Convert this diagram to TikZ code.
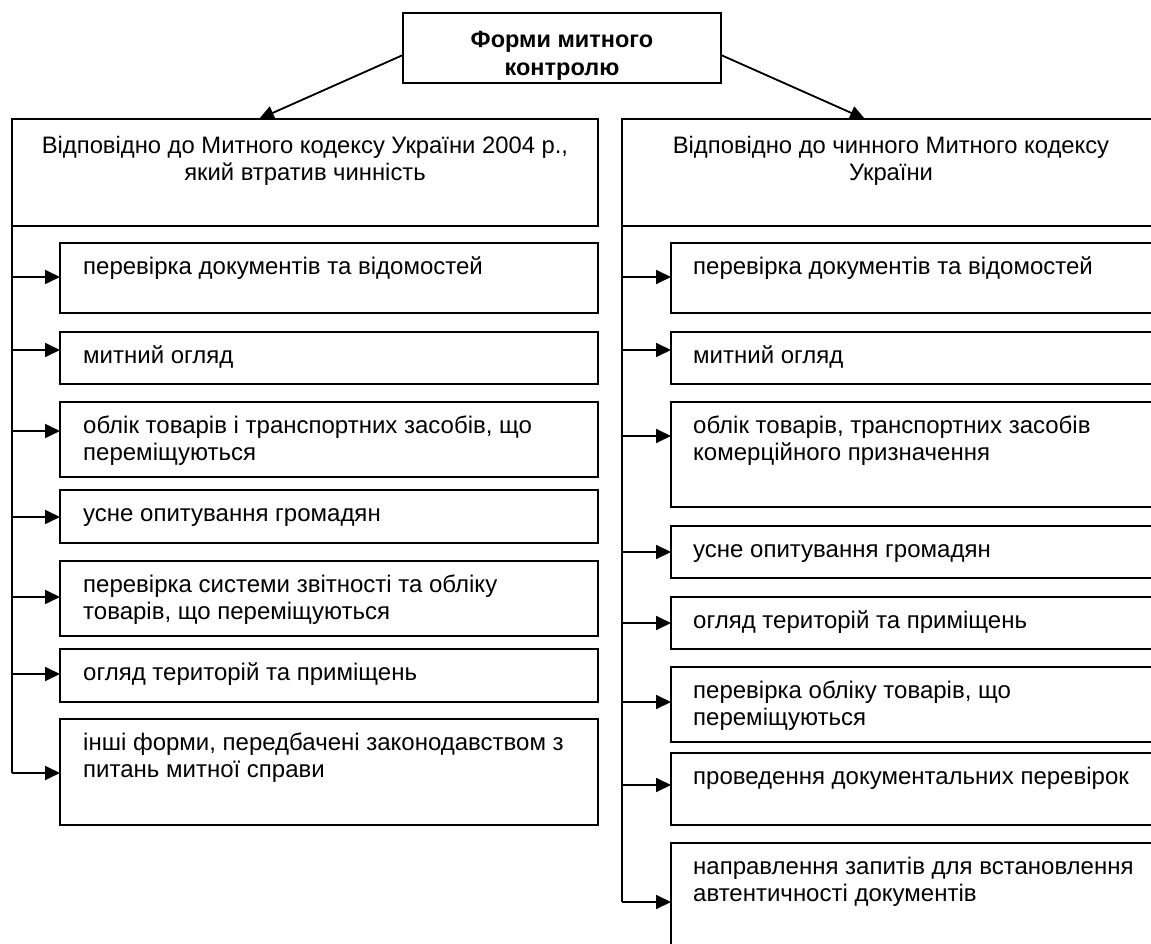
\documentclass[tikz,border=0pt]{standalone}
\usepackage{fontspec}
\setmainfont{Liberation Sans}
\usetikzlibrary{arrows.meta,calc}
\newcommand{\fl}{\rule{0pt}{19pt}}
\begin{document}
\begin{tikzpicture}[x=1pt,y=-1pt,
  box/.style={draw, line width=1.8pt, inner sep=0pt, outer sep=0pt, anchor=north west, fill=white},
  txt/.style={anchor=north west, inner sep=0pt, align=left, font=\fontsize{24}{27}\selectfont},
  htxt/.style={anchor=north, inner sep=0pt, align=center, font=\fontsize{23.8}{27}\selectfont},
  ttxt/.style={anchor=north, inner sep=0pt, align=center, font=\fontsize{23.5}{28}\selectfont\bfseries},
  ln/.style={line width=1.8pt},
  arr/.style={line width=1.8pt, -{Triangle[length=15pt,width=14pt]}},
]
\useasboundingbox (0,0) rectangle (1151,944);
\clip (0,0) rectangle (1151,944);

% title
\node[box, minimum width=318pt, minimum height=70pt] (top) at (403,13) {};
\node[ttxt] (toptxt) at ($(top.north)+(0,14)$) {\rule{0pt}{20pt}Форми митного\\контролю};

% headers
\node[box, minimum width=586pt, minimum height=107pt] (lh) at (12,119) {};
\node[box, minimum width=538pt, minimum height=107pt] (rh) at (622,119) {};
\node[htxt] (lht) at ($(lh.north)+(0,15)$) {\fl Відповідно до Митного кодексу України 2004 р.,\\який втратив чинність};
\node[htxt] (rht) at ($(rh.north)+(0,15)$) {\fl Відповідно до чинного Митного кодексу\\України};

\draw[arr] ($(top.north west)+(0,42)$) -- (259,0 |- lh.north);
\draw[arr] ($(top.north east)+(0,42)$) -- (865,0 |- rh.north);

% left column
\node[box, minimum width=538pt, minimum height=70pt] (l1) at (60,243) {};
\node[box, minimum width=538pt, minimum height=52pt] (l2) at (60,332) {};
\node[box, minimum width=538pt, minimum height=75pt] (l3) at (60,402) {};
\node[box, minimum width=538pt, minimum height=53pt] (l4) at (60,490) {};
\node[box, minimum width=538pt, minimum height=75pt] (l5) at (60,561) {};
\node[box, minimum width=538pt, minimum height=53pt] (l6) at (60,649) {};
\node[box, minimum width=538pt, minimum height=106pt] (l7) at (60,719) {};

\node[txt] (l1t) at ($(l1.north west)+(23,12)$) {\fl перевірка документів та відомостей};
\node[txt] (l2t) at ($(l2.north west)+(23,12)$) {\fl митний огляд};
\node[txt] (l3t) at ($(l3.north west)+(23,12)$) {\fl облік товарів і транспортних засобів, що\\переміщуються};
\node[txt] (l4t) at ($(l4.north west)+(23,12)$) {\fl усне опитування громадян};
\node[txt] (l5t) at ($(l5.north west)+(23,12)$) {\fl перевірка системи звітності та обліку\\товарів, що переміщуються};
\node[txt] (l6t) at ($(l6.north west)+(23,12)$) {\fl огляд територій та приміщень};
\node[txt] (l7t) at ($(l7.north west)+(23,12)$) {\fl інші форми, передбачені законодавством з\\питань митної справи};

\draw[ln] (lh.south west) -- (lh.west |- 0,773);
\draw[arr] (lh.west |- 0,277) -- (l1.west |- 0,277);
\draw[arr] (lh.west |- 0,350) -- (l2.west |- 0,350);
\draw[arr] (lh.west |- 0,431) -- (l3.west |- 0,431);
\draw[arr] (lh.west |- 0,517) -- (l4.west |- 0,517);
\draw[arr] (lh.west |- 0,597) -- (l5.west |- 0,597);
\draw[arr] (lh.west |- 0,674) -- (l6.west |- 0,674);
\draw[arr] (lh.west |- 0,773) -- (l7.west |- 0,773);

% right column
\node[box, minimum width=538pt, minimum height=70pt] (r1) at (671,243) {};
\node[box, minimum width=538pt, minimum height=52pt] (r2) at (671,332) {};
\node[box, minimum width=538pt, minimum height=105pt] (r3) at (671,402) {};
\node[box, minimum width=538pt, minimum height=52pt] (r4) at (671,526) {};
\node[box, minimum width=538pt, minimum height=52pt] (r5) at (671,597) {};
\node[box, minimum width=538pt, minimum height=75pt] (r6) at (671,667) {};
\node[box, minimum width=538pt, minimum height=72pt] (r7) at (671,753) {};
\node[box, minimum width=538pt, minimum height=140pt] (r8) at (671,843) {};

\node[txt] (r1t) at ($(r1.north west)+(22,12)$) {\fl перевірка документів та відомостей};
\node[txt] (r2t) at ($(r2.north west)+(22,12)$) {\fl митний огляд};
\node[txt] (r3t) at ($(r3.north west)+(22,12)$) {\fl облік товарів, транспортних засобів\\комерційного призначення};
\node[txt] (r4t) at ($(r4.north west)+(22,12)$) {\fl усне опитування громадян};
\node[txt] (r5t) at ($(r5.north west)+(22,12)$) {\fl огляд територій та приміщень};
\node[txt] (r6t) at ($(r6.north west)+(22,12)$) {\fl перевірка обліку товарів, що\\переміщуються};
\node[txt] (r7t) at ($(r7.north west)+(22,12)$) {\fl проведення документальних перевірок};
\node[txt] (r8t) at ($(r8.north west)+(22,12)$) {\fl направлення запитів для встановлення\\автентичності документів};

\draw[ln] (rh.south west) -- (rh.west |- 0,902);
\draw[arr] (rh.west |- 0,277) -- (r1.west |- 0,277);
\draw[arr] (rh.west |- 0,350) -- (r2.west |- 0,350);
\draw[arr] (rh.west |- 0,436) -- (r3.west |- 0,436);
\draw[arr] (rh.west |- 0,552) -- (r4.west |- 0,552);
\draw[arr] (rh.west |- 0,623) -- (r5.west |- 0,623);
\draw[arr] (rh.west |- 0,702) -- (r6.west |- 0,702);
\draw[arr] (rh.west |- 0,785) -- (r7.west |- 0,785);
\draw[arr] (rh.west |- 0,902) -- (r8.west |- 0,902);
\end{tikzpicture}
\end{document}
